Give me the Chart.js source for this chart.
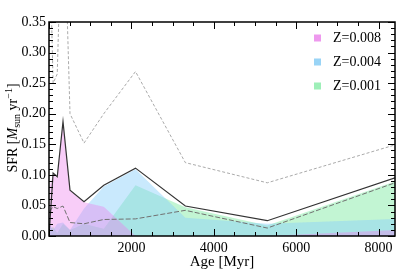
<!DOCTYPE html>
<html>
<head>
<meta charset="utf-8">
<script src="https://cdn.jsdelivr.net/npm/chart.js@4.4.1/dist/chart.umd.min.js"></script>
<style>
  html, body { margin: 0; padding: 0; background: #fff; }
  #wrap { width: 417px; height: 274px; }
</style>
</head>
<body>
<div id="wrap"><canvas id="sfr-chart" width="417" height="274"></canvas></div>
<script>
// ages of the bins [Myr]
const ages = [10, 100, 200, 340, 510, 850, 1330, 2100, 3310, 5300, 8400];

// SFR [Msun/yr]
const sfrTotal = [0.010, 0.103, 0.097, 0.187, 0.075, 0.056, 0.083, 0.111, 0.049, 0.025, 0.095];
const sfrUpper = [0.500, 0.250, 0.265, 0.600, 0.200, 0.152, 0.200, 0.269, 0.120, 0.087, 0.149];
const sfrLower = [0.040, 0.048, 0.045, 0.049, 0.022, 0.020, 0.027, 0.028, 0.042, 0.013, 0.087];
const sfrZ008 = [0.080, 0.100, 0.095, 0.185, 0.074, 0.055, 0.048, 0.000, 0.000, 0.000, 0.010];
const sfrZ004 = [0.020, 0.010, 0.020, 0.022, 0.010, 0.045, 0.081, 0.109, 0.030, 0.020, 0.028];
const sfrZ001 = [0.010, 0.015, 0.005, 0.020, 0.010, 0.020, 0.012, 0.083, 0.047, 0.017, 0.089];

const seriesLabels = ['Z=0.008', 'Z=0.004', 'Z=0.001'];
const yTicks = [0, 0.05, 0.1, 0.15, 0.2, 0.25, 0.3, 0.35];
const xTicks = [2000, 4000, 6000, 8000];

const serif = "'Liberation Serif', 'DejaVu Serif', serif";
const fillColors = ['rgba(238,130,238,0.40)', 'rgba(135,206,250,0.45)', 'rgba(110,230,150,0.42)'];
const legendColors = ['#ee99ee', '#99d4f6', '#9eefb8'];

const pts = (vals) => vals.map((v, i) => ({ x: ages[i], y: v }));

function lineSet(vals, color, width, dash) {
  return {
    data: pts(vals),
    borderColor: color,
    borderWidth: width,
    borderDash: dash,
    pointRadius: 0,
    fill: false,
    tension: 0,
  };
}

function fillSet(vals, idx) {
  return {
    label: seriesLabels[idx],
    data: pts(vals),
    borderWidth: 0,
    borderColor: 'rgba(0,0,0,0)',
    backgroundColor: fillColors[idx],
    pointRadius: 0,
    fill: 'origin',
    tension: 0,
  };
}

// inward ticks, frame, legend and y title
const decorPlugin = {
  id: 'decor',
  afterDraw(chart) {
    const { ctx, chartArea: a, scales } = chart;
    const xs = scales.x, ys = scales.y;
    ctx.save();
    ctx.strokeStyle = '#000';
    ctx.lineWidth = 1;
    ctx.beginPath();
    for (let v = 0; v <= 8400; v += 500) {
      const px = Math.round(xs.getPixelForValue(v)) + 0.5;
      const len = v % 2000 === 0 ? 7 : 4;
      ctx.moveTo(px, a.bottom); ctx.lineTo(px, a.bottom - len);
      ctx.moveTo(px, a.top); ctx.lineTo(px, a.top + len);
    }
    for (let k = 0; k <= 35; k++) {
      const py = Math.round(ys.getPixelForValue(k / 100)) + 0.5;
      const len = k % 5 === 0 ? 7 : 4;
      ctx.moveTo(a.left, py); ctx.lineTo(a.left + len, py);
      ctx.moveTo(a.right, py); ctx.lineTo(a.right - len, py);
    }
    ctx.stroke();
    ctx.lineWidth = 1.5;
    ctx.strokeRect(a.left, a.top, a.right - a.left, a.bottom - a.top);

    // legend
    ctx.font = `14px ${serif}`;
    ctx.textBaseline = 'middle';
    ctx.textAlign = 'left';
    seriesLabels.forEach((lab, i) => {
      const cy = 38 + i * 24;
      ctx.fillStyle = legendColors[i];
      ctx.fillRect(314, cy - 3.5, 7, 7);
      ctx.fillStyle = '#000';
      ctx.fillText(lab, 333, cy);
    });

    // y title with sub/superscript
    const parts = [
      { t: 'SFR [', f: `14px ${serif}`, dy: 0 },
      { t: 'M', f: `italic 14px ${serif}`, dy: 0 },
      { t: 'sun', f: `10px ${serif}`, dy: 3 },
      { t: ' yr', f: `14px ${serif}`, dy: 0 },
      { t: '\u22121', f: `10px ${serif}`, dy: -5 },
      { t: ']', f: `14px ${serif}`, dy: 0 },
    ];
    let total = 0;
    parts.forEach(p => { ctx.font = p.f; p.w = ctx.measureText(p.t).width; total += p.w; });
    ctx.translate(12, 128);
    ctx.rotate(-Math.PI / 2);
    let x0 = -total / 2;
    ctx.textBaseline = 'alphabetic';
    parts.forEach(p => {
      ctx.font = p.f;
      ctx.fillText(p.t, x0, 5 + p.dy);
      x0 += p.w;
    });
    ctx.restore();
  },
};

const chartConfig = {
  type: 'line',
  data: {
    datasets: [
      lineSet(sfrTotal, '#333333', 1.2, []),
      lineSet(sfrLower, '#707070', 1, [5, 2]),
      lineSet(sfrUpper, '#a0a0a0', 0.9, [3, 2]),
      fillSet(sfrZ008, 0),
      fillSet(sfrZ004, 1),
      fillSet(sfrZ001, 2),
    ],
  },
  options: {
    responsive: false,
    animation: false,
    layout: { padding: { top: 22, right: 22, left: 0, bottom: 0 } },
    plugins: { legend: { display: false }, tooltip: { enabled: false } },
    scales: {
      x: {
        type: 'linear',
        min: 0,
        max: 8400,
        afterBuildTicks: (s) => { s.ticks = xTicks.map(v => ({ value: v })); },
        afterFit: (s) => { s.height = 38; },
        grid: { display: false, drawTicks: false },
        border: { display: false },
        ticks: { color: '#000', font: { family: serif, size: 14 }, padding: 4, maxRotation: 0, callback: (v) => String(v) },
        title: { display: true, text: 'Age [Myr]', color: '#000', font: { family: serif, size: 15 }, padding: { top: 0, bottom: 3 } },
      },
      y: {
        min: 0,
        max: 0.35,
        afterBuildTicks: (s) => { s.ticks = yTicks.map(v => ({ value: v })); },
        afterFit: (s) => { s.width = 49; },
        grid: { display: false, drawTicks: false },
        border: { display: false },
        ticks: { color: '#000', font: { family: serif, size: 14 }, padding: 3, callback: (v) => v.toFixed(2) },
      },
    },
  },
  plugins: [decorPlugin],
};

// eslint-disable-next-line no-undef
new Chart(document.getElementById('sfr-chart').getContext('2d'), chartConfig);
</script>
</body>
</html>
